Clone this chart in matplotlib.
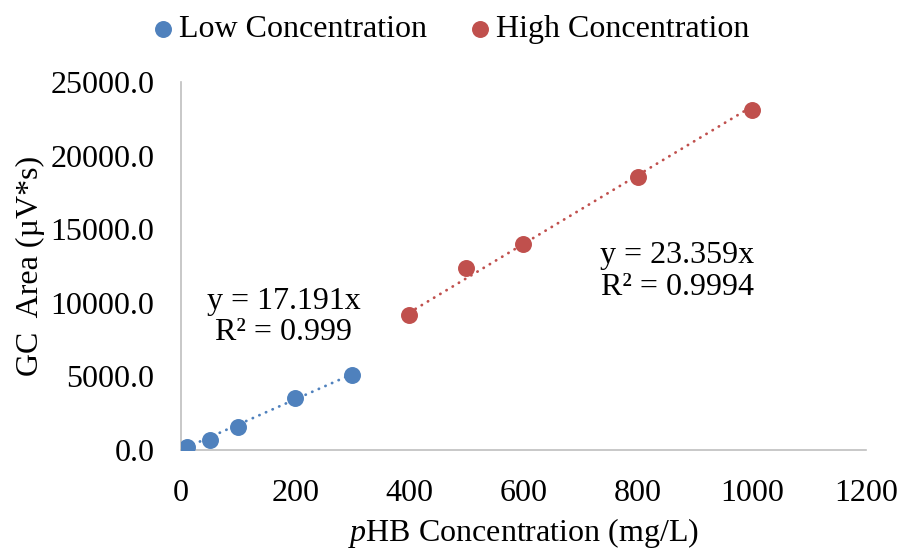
import matplotlib
matplotlib.use("Agg")
import matplotlib.pyplot as plt
import numpy as np

plt.rcParams['font.family'] = ['Liberation Serif', 'DejaVu Serif']
plt.rcParams['mathtext.fontset'] = 'custom'
plt.rcParams['mathtext.it'] = 'Liberation Serif:italic'
plt.rcParams['mathtext.rm'] = 'Liberation Serif'

# data
low_x = [10, 50, 100, 200, 300]
low_y = [170, 700, 1550, 3500, 5100]
high_x = [400, 500, 600, 800, 1000]
high_y = [9200, 12400, 14000, 18600, 23100]
low_slope = 17.191
high_slope = 23.359
low_r2 = "0.999"
high_r2 = "0.9994"

blue = "#4F81BD"
red = "#C0504D"
grey = "#BFBFBF"
fs = 23

fig = plt.figure(figsize=(8.99, 5.5), dpi=100)
ax = fig.add_axes([0.2013, 0.182, 0.762, 0.668])

# trend lines through the origin, over each data range
for xs, slope, col in [(low_x, low_slope, blue), (high_x, high_slope, red)]:
    xl = np.array([min(xs), max(xs)])
    ax.plot(xl, slope * xl, color=col, lw=2.0, linestyle=(0, (0.1, 2.5)),
            dash_capstyle='round', zorder=2)

ax.scatter(low_x, low_y, s=125, color=blue, zorder=3, label="Low Concentration")
ax.scatter(high_x, high_y, s=125, color=red, zorder=3, label="High Concentration")

ax.text(180, 9050, "y = %.3fx\nR² = %s" % (low_slope, low_r2), fontsize=fs,
        ha='center', va='center', linespacing=1.12)
ax.text(869, 12150, "y = %.3fx\nR² = %s" % (high_slope, high_r2), fontsize=fs,
        ha='center', va='center', linespacing=1.12)

ax.set_xlim(0, 1200)
ax.set_ylim(0, 25000)
ax.set_xticks(np.arange(0, 1201, 200))
ax.set_yticks(np.arange(0, 25001, 5000))
ax.set_yticklabels(["%.1f" % v for v in np.arange(0, 25001, 5000)])
ax.tick_params(axis='both', length=0, labelsize=fs)
ax.tick_params(axis='y', pad=19)
ax.tick_params(axis='x', pad=21)

for s in ['top', 'right']:
    ax.spines[s].set_visible(False)
for s in ['left', 'bottom']:
    ax.spines[s].set_color(grey)
    ax.spines[s].set_linewidth(1.2)

ax.set_xlabel("$\\it{p}$HB Concentration (mg/L)", fontsize=fs)
ax.xaxis.set_label_coords(0.5, -0.18)
ax.set_ylabel("GC  Area (µV*s)", fontsize=fs)
ax.yaxis.set_label_coords(-0.199, 0.5)

fig.legend(loc='upper center', bbox_to_anchor=(0.49, 1.025), ncol=2, frameon=False,
           fontsize=fs, handletextpad=-0.5, columnspacing=0.65, markerscale=1.0)

fig.savefig("out.png", dpi=100)
